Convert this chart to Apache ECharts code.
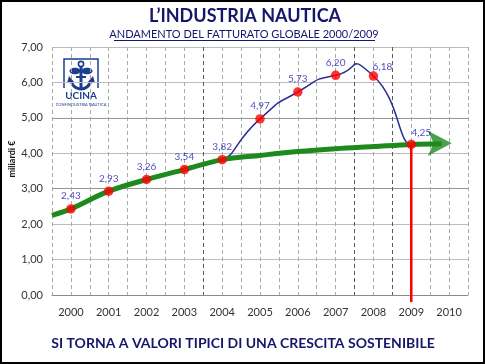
<!DOCTYPE html>
<html>
<head>
<meta charset="utf-8">
<script src="https://cdn.jsdelivr.net/npm/echarts@6/dist/echarts.min.js"></script>
<style>
html,body{margin:0;padding:0;background:#fff;}
#chart{width:485px;height:364px;}
</style>
</head>
<body>
<div id="chart"></div>
<script>
// ---- data ----
const years = ['2000','2001','2002','2003','2004','2005','2006','2007','2008','2009','2010'];
const fatturato = [2.43, 2.93, 3.26, 3.54, 3.82, 4.97, 5.73, 6.20, 6.18, 4.25];
const fatturatoLabels = ['2,43','2,93','3,26','3,54','3,82','4,97','5,73','6,20','6,18','4,25'];
const trendX = [-0.5, 0, 1, 2, 3, 4, 5, 6, 7, 8, 9, 9.8];
const trendY = [2.25, 2.43, 2.93, 3.26, 3.54, 3.82, 3.94, 4.05, 4.13, 4.19, 4.25, 4.27];
const arrowHead = [10.07, 4.28];
const divergeFrom = 4;      // 2004: from here the actual values leave the trend
const markerYear = 9;       // 2009
const markerLow = -0.2;

const FONT = 'Lato, "Open Sans", sans-serif';
const NAVY = '#16166b';
const LOGO = '#1d3d8f';
const TENSION = 0.35;

const chart = echarts.init(document.getElementById('chart'), null, {renderer: 'canvas'});

// split line colour cycles
const xSplitColors = [];
for (let v = -0.5; v <= 10.5001; v += 0.5) {
  const d = Math.abs(v - 3.5) < 1e-6 || Math.abs(v - 7.5) < 1e-6 || Math.abs(v - 8.5) < 1e-6;
  xSplitColors.push(d ? '#5a5a5a' : '#a9a9a9');
}
const ySplitColors = ['#999','#bdbdbd','#bdbdbd','#949494','#bdbdbd','#949494','#bdbdbd','#bdbdbd'];

// smooth curve through the points (cardinal bezier); before divergeFrom it runs under the trend
function renderCurve(params, api) {
  const i = params.dataIndex;
  const n = fatturato.length;
  if (i >= n - 1) return null;
  const P = j => api.coord([j, fatturato[j]]);
  const p1 = P(i), p2 = P(i + 1);
  const p0 = i > 0 ? P(i - 1) : null;
  const p3 = i + 2 < n ? P(i + 2) : null;
  const dx = p2[0] - p1[0];
  let c1;
  if (!p0) c1 = [p1[0] + dx * TENSION, p1[1] + (p2[1] - p1[1]) * TENSION];
  else if (i === divergeFrom) c1 = [p1[0] + (p1[0] - p0[0]) * TENSION, p1[1] + (p1[1] - p0[1]) * TENSION];
  else c1 = [p1[0] + (p2[0] - p0[0]) * TENSION, p1[1] + (p2[1] - p0[1]) * TENSION];
  let c2;
  if (!p3) c2 = [p2[0] - dx * TENSION, p2[1]];
  else if (i + 1 === divergeFrom) c2 = [p2[0] - dx * TENSION, p2[1] - (p2[1] - p1[1]) * TENSION];
  else c2 = [p2[0] - (p3[0] - p1[0]) * TENSION, p2[1] - (p3[1] - p1[1]) * TENSION];
  return {
    type: 'bezierCurve',
    shape: {x1: p1[0], y1: p1[1], x2: p2[0], y2: p2[1], cpx1: c1[0], cpy1: c1[1], cpx2: c2[0], cpy2: c2[1]},
    style: {stroke: '#2c2c95', lineWidth: 1.5, fill: null}
  };
}

const option = {
  animation: false,
  textStyle: {fontFamily: FONT},
  grid: {left: 52, right: 17, top: 47, bottom: 69, containLabel: false, outerBoundsMode: 'none'},
  xAxis: {
    type: 'value', min: -0.5, max: 10.5, interval: 0.5,
    axisLine: {show: true, lineStyle: {color: '#8a8a8a', width: 1}},
    axisTick: {show: false},
    axisLabel: {
      margin: 12, fontSize: 11, color: '#333', fontFamily: FONT,
      formatter: v => {
        const r = Math.round(v);
        return Math.abs(v - r) < 1e-6 && r >= 0 && r < years.length ? years[r] : '';
      }
    },
    splitLine: {show: true, lineStyle: {type: [4, 3], color: xSplitColors, width: 1}}
  },
  yAxis: {
    type: 'value', min: 0, max: 7, interval: 1,
    axisLine: {show: false},
    axisTick: {show: false},
    axisLabel: {margin: 9, fontSize: 11, color: '#333', fontFamily: FONT,
      formatter: v => v.toFixed(2).replace('.', ',')},
    splitLine: {show: true, lineStyle: {color: ySplitColors, width: 1}}
  },
  series: [
    {
      name: 'fatturato', type: 'custom', z: 2,
      data: fatturato.map((v, i) => [i, v]),
      renderItem: renderCurve
    },
    {
      name: 'trend', type: 'line', z: 3,
      data: trendX.map((x, i) => [x, trendY[i]]),
      smooth: 0.35, symbol: 'none',
      lineStyle: {color: '#1e8a1e', width: 5}
    },
    {
      name: 'freccia', type: 'scatter', z: 3,
      data: [arrowHead],
      symbol: 'arrow', symbolSize: [19, 24], symbolRotate: -90,
      itemStyle: {color: '#1e8a1e'}
    },
    {
      name: 'marker', type: 'line', z: 4, clip: false,
      data: [[markerYear, fatturato[markerYear]], [markerYear, markerLow]],
      symbol: 'none',
      lineStyle: {color: '#ff0000', width: 2.5}
    },
    {
      name: 'punti', type: 'scatter', z: 5,
      data: fatturato.map((v, i) => {
        const item = {value: [i, v]};
        if (i === 8) item.label = {offset: [9, 3]};
        if (i === 9) item.label = {offset: [10, 1]};
        return item;
      }),
      symbolSize: 9.5,
      itemStyle: {color: '#ff0000'},
      label: {
        show: true, position: 'top', distance: 3,
        fontSize: 10, color: '#1a1ab0', fontFamily: FONT,
        formatter: p => fatturatoLabels[p.dataIndex]
      }
    }
  ],
  graphic: [
    {type: 'rect', shape: {x: 1, y: 1, width: 483, height: 362}, style: {fill: 'none', stroke: '#000', lineWidth: 2}, z: 100},
    {type: 'text', x: 245, y: 16, style: {text: 'L’INDUSTRIA NAUTICA', font: 'bold 18px ' + FONT, fill: NAVY, align: 'center', verticalAlign: 'middle'}},
    {type: 'text', x: 244, y: 34, style: {text: 'ANDAMENTO DEL FATTURATO GLOBALE 2000/2009', font: '11px ' + FONT, fill: NAVY, align: 'center', verticalAlign: 'middle'}},
    {type: 'line', shape: {x1: 114, y1: 40.5, x2: 375, y2: 40.5}, style: {stroke: NAVY, lineWidth: 1}},
    {type: 'text', x: 243, y: 343, style: {text: 'SI TORNA A VALORI TIPICI DI UNA CRESCITA SOSTENIBILE', font: 'bold 14px ' + FONT, fill: NAVY, align: 'center', verticalAlign: 'middle'}},
    {type: 'text', x: 12, y: 159, rotation: Math.PI / 2, style: {text: 'miliardi €', font: 'bold 9px ' + FONT, fill: '#111', align: 'center', verticalAlign: 'middle'}},
    // logo
    {type: 'group', z: 50, children: [
      {type: 'rect', shape: {x: 60, y: 56, width: 44, height: 54}, style: {fill: '#fff'}},
      {type: 'polyline', shape: {points: [[64, 88], [64, 59], [98, 59], [98, 88]]}, style: {fill: 'none', stroke: LOGO, lineWidth: 1.5}},
      {type: 'circle', shape: {cx: 81, cy: 64, r: 2.6}, style: {fill: 'none', stroke: LOGO, lineWidth: 1.6}},
      {type: 'ellipse', shape: {cx: 75, cy: 71, rx: 5.5, ry: 3.2}, style: {fill: LOGO}},
      {type: 'ellipse', shape: {cx: 87, cy: 71, rx: 5.5, ry: 3.2}, style: {fill: LOGO}},
      {type: 'rect', shape: {x: 79.5, y: 67, width: 3, height: 21}, style: {fill: LOGO}},
      {type: 'rect', shape: {x: 76, y: 76, width: 10, height: 2}, style: {fill: LOGO}},
      {type: 'arc', shape: {cx: 81, cy: 79, r: 10, startAngle: 0.15, endAngle: Math.PI - 0.15, clockwise: true}, style: {fill: 'none', stroke: LOGO, lineWidth: 3}},
      {type: 'polygon', shape: {points: [[67, 83], [69, 76], [74, 82]]}, style: {fill: LOGO}},
      {type: 'polygon', shape: {points: [[95, 83], [93, 76], [88, 82]]}, style: {fill: LOGO}},
      {type: 'text', x: 81, y: 96, style: {text: 'UCINA', font: 'bold 10px ' + FONT, fill: LOGO, align: 'center', verticalAlign: 'middle'}},
      {type: 'text', x: 81, y: 105, style: {text: 'CONFINDUSTRIA NAUTICA', font: '4px ' + FONT, fill: LOGO, align: 'center', verticalAlign: 'middle'}}
    ]}
  ]
};
chart.setOption(option);
</script>
</body>
</html>
